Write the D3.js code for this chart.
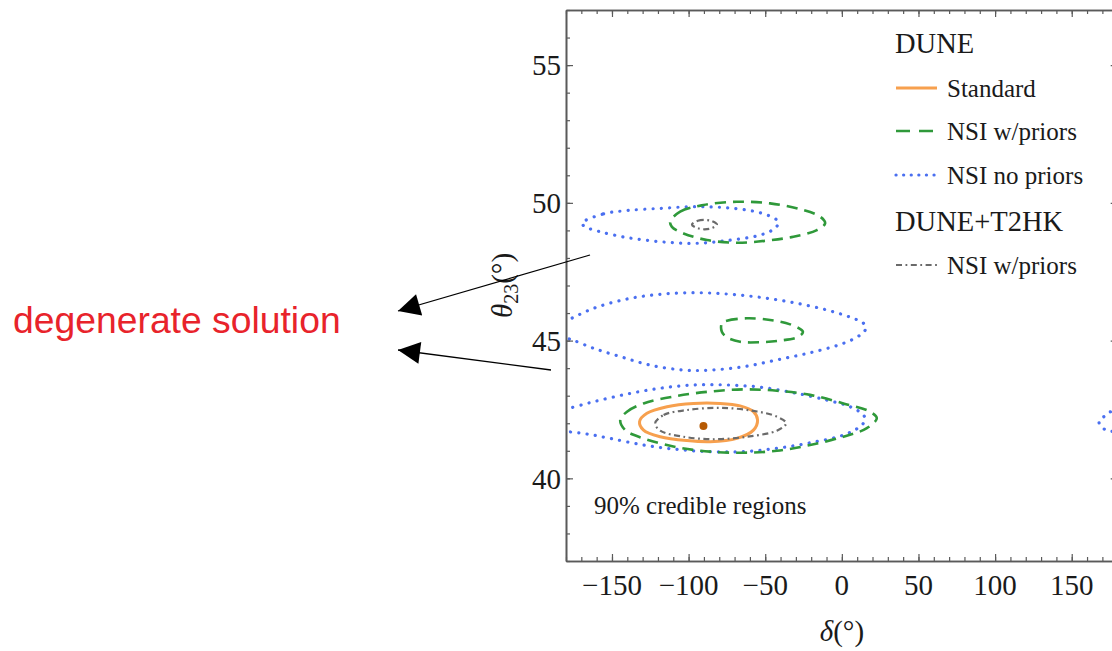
<!DOCTYPE html>
<html>
<head>
<meta charset="utf-8">
<script src="https://cdn.jsdelivr.net/npm/d3@7"></script>
<style>
  html, body { margin: 0; padding: 0; background: #fff; }
  svg { display: block; }
  .serif { font-family: "Liberation Serif", "Times New Roman", serif; fill: #1a1a1a; }
</style>
</head>
<body>
<svg id="chart" width="1112" height="651"></svg>
<script>
// Axis ticks
const deltaTicks = [-150, -100, -50, 0, 50, 100, 150];
const thetaTicks = [40, 45, 50, 55];
const deltaMinor = d3.range(-180, 181, 10);
const thetaMinor = d3.range(37, 58, 1);

// 90% credible regions, points as [delta (deg), theta23 (deg)]
// DUNE, standard oscillations
const duneStandard = [
  [-132.0, 42.06], [-127.2, 42.36], [-114.1, 42.60], [-96.8, 42.72], [-79.4, 42.72],
  [-66.4, 42.63], [-57.7, 42.42], [-55.0, 42.12], [-57.7, 41.75], [-68.5, 41.45],
  [-85.9, 41.33], [-101.1, 41.37], [-118.5, 41.51], [-129.4, 41.75]
];

// DUNE, NSI with priors (three islands)
const duneNsiPriorsLow = [
  [-144.6, 42.12], [-140.2, 42.42], [-129.4, 42.72], [-107.6, 42.99], [-85.9, 43.15],
  [-64.2, 43.23], [-42.4, 43.18], [-20.7, 43.03], [1.0, 42.72], [18.4, 42.42],
  [22.8, 42.18], [16.3, 41.82], [1.0, 41.51], [-20.7, 41.21], [-42.4, 41.00],
  [-64.2, 40.93], [-85.9, 40.97], [-107.6, 41.13], [-129.4, 41.45], [-141.3, 41.75]
];
const duneNsiPriorsMid = [
  [-78.3, 45.63], [-75.0, 45.72], [-62.0, 45.81], [-46.8, 45.75], [-33.7, 45.59],
  [-25.4, 45.32], [-28.3, 45.14], [-40.3, 45.00], [-53.3, 44.94], [-66.4, 44.96],
  [-75.0, 45.12], [-78.3, 45.32]
];
const duneNsiPriorsHigh = [
  [-112.0, 49.32], [-105.5, 49.68], [-90.3, 49.92], [-68.5, 50.04], [-46.8, 49.98],
  [-27.2, 49.77], [-14.2, 49.50], [-10.9, 49.26], [-16.3, 49.01], [-31.6, 48.77],
  [-48.9, 48.63], [-68.5, 48.55], [-88.0, 48.65], [-103.3, 48.89], [-110.9, 49.13]
];

// DUNE, NSI without priors (lower and middle islands wrap around delta = +-180)
const duneNsiNoPriorsLow = [
  [-186, 42.45], [-178.3, 42.54], [-162.0, 42.78], [-140.2, 43.06], [-118.5, 43.27],
  [-96.8, 43.39], [-75.0, 43.39], [-53.3, 43.31], [-31.6, 43.11], [-9.8, 42.84],
  [5.4, 42.60], [14.1, 42.30], [15.2, 42.12], [11.9, 41.88], [1.0, 41.57],
  [-20.7, 41.29], [-42.4, 41.09], [-64.2, 40.97], [-85.9, 40.97], [-107.6, 41.05],
  [-129.4, 41.21], [-151.1, 41.45], [-166.3, 41.61], [-178.3, 41.69], [-186, 41.72]
];
const duneNsiNoPriorsLowWrap = [
  [186, 42.50], [175.0, 42.41], [172.8, 42.30], [169.0, 42.16], [167.8, 42.04],
  [169.8, 41.84], [175.0, 41.72], [186, 41.68]
];
const duneNsiNoPriorsMid = [
  [-186, 45.60], [-180.0, 45.72], [-162.0, 46.17], [-140.2, 46.51], [-118.5, 46.68],
  [-96.8, 46.74], [-75.0, 46.69], [-53.3, 46.57], [-31.6, 46.38], [-9.8, 46.11],
  [5.4, 45.85], [14.1, 45.63], [15.8, 45.45], [11.9, 45.20], [1.0, 44.90],
  [-20.7, 44.56], [-42.4, 44.30], [-64.2, 44.05], [-85.9, 43.93], [-103.3, 43.93],
  [-125.0, 44.11], [-144.6, 44.42], [-162.0, 44.72], [-177.3, 45.05], [-186, 45.15]
];
const duneNsiNoPriorsHigh = [
  [-169.6, 49.26], [-155.5, 49.60], [-140.2, 49.72], [-118.5, 49.80], [-96.8, 49.86],
  [-75.0, 49.82], [-53.3, 49.64], [-42.4, 49.38], [-41.3, 49.26], [-44.6, 49.04],
  [-53.3, 48.83], [-75.0, 48.63], [-96.8, 48.53], [-118.5, 48.59], [-140.2, 48.74],
  [-157.6, 48.95], [-167.4, 49.13]
];

// DUNE+T2HK, NSI with priors
const t2hkNsiPriorsLow = [
  [-121.8, 42.00], [-116.3, 42.30], [-101.1, 42.48], [-79.4, 42.56], [-57.7, 42.45],
  [-42.4, 42.24], [-36.3, 42.00], [-42.4, 41.73], [-62.0, 41.51], [-83.7, 41.42],
  [-103.3, 41.51], [-118.5, 41.73]
];
const t2hkNsiPriorsHigh = [
  [-97.8, 49.21], [-94.0, 49.35], [-89.7, 49.38], [-85.0, 49.34], [-81.5, 49.21],
  [-85.0, 49.08], [-89.7, 49.04], [-94.0, 49.08]
];

// True point
const bestFit = [-90.3, 41.90];

// Legend
const legendGroups = ["DUNE", "DUNE+T2HK"];
const legendLabels = ["Standard", "NSI w/priors", "NSI no priors", "NSI w/priors"];

const styles = {
  standard: { stroke: "#f7a04e", width: 3, dash: null, cap: "butt" },
  priors:   { stroke: "#2f993a", width: 2.6, dash: "11 7", cap: "butt" },
  noPriors: { stroke: "#4a6ff0", width: 3.2, dash: "0.1 8.2", cap: "round" },
  t2hk:     { stroke: "#6a6a6a", width: 2.2, dash: "6 3.5 1.8 3.5", cap: "butt" }
};

const svg = d3.select("#chart");
const plotLeft = 566, plotTop = 10, plotBottom = 561;
const x = d3.scaleLinear().domain([-180, 180]).range([plotLeft, 1117.7]);
const y = d3.scaleLinear().domain([37, 57]).range([plotBottom, plotTop]);

const defs = svg.append("defs");
defs.append("clipPath").attr("id", "plotClip")
  .append("rect")
  .attr("x", x(-180)).attr("y", y(57))
  .attr("width", x(180) - x(-180)).attr("height", y(37) - y(57));

const plot = svg.append("g").attr("clip-path", "url(#plotClip)");

const closedLine = d3.line().x(d => x(d[0])).y(d => y(d[1]))
  .curve(d3.curveCatmullRomClosed.alpha(0.5));
const openLine = d3.line().x(d => x(d[0])).y(d => y(d[1]))
  .curve(d3.curveCatmullRom.alpha(0.5));

function contour(data, style, closed) {
  plot.append("path")
    .datum(data)
    .attr("d", closed ? closedLine : openLine)
    .attr("fill", "none")
    .attr("stroke", style.stroke)
    .attr("stroke-width", style.width)
    .attr("stroke-dasharray", style.dash)
    .attr("stroke-linecap", style.cap)
    .attr("stroke-linejoin", "round");
}

contour(duneNsiNoPriorsLow, styles.noPriors, false);
contour(duneNsiNoPriorsLowWrap, styles.noPriors, false);
contour(duneNsiNoPriorsMid, styles.noPriors, false);
contour(duneNsiNoPriorsHigh, styles.noPriors, true);
contour(duneNsiPriorsLow, styles.priors, true);
contour(duneNsiPriorsMid, styles.priors, true);
contour(duneNsiPriorsHigh, styles.priors, true);
contour(duneStandard, styles.standard, true);
contour(t2hkNsiPriorsLow, styles.t2hk, true);
contour(t2hkNsiPriorsHigh, styles.t2hk, true);

plot.append("circle")
  .attr("cx", x(bestFit[0])).attr("cy", y(bestFit[1]))
  .attr("r", 4).attr("fill", "#b65a04");

// Frame with inward ticks on all four sides
const frameColor = "#5a5a5a";
function frame(axis, transform) {
  const g = svg.append("g").attr("transform", transform).call(axis);
  g.select(".domain").attr("stroke", frameColor).attr("stroke-width", 1.6);
  g.selectAll(".tick line").attr("stroke", frameColor).attr("stroke-width", 1.2);
  g.selectAll("text").remove();
  return g;
}
const minorLen = 4, majorLen = 7;
// minor ticks
frame(d3.axisBottom(x).tickValues(deltaMinor).tickSize(-minorLen).tickSizeOuter(0), `translate(0,${plotBottom})`);
frame(d3.axisTop(x).tickValues(deltaMinor).tickSize(-minorLen).tickSizeOuter(0), `translate(0,${plotTop})`);
frame(d3.axisLeft(y).tickValues(thetaMinor).tickSize(-minorLen).tickSizeOuter(0), `translate(${plotLeft},0)`);
frame(d3.axisRight(y).tickValues(thetaMinor).tickSize(-minorLen).tickSizeOuter(0), `translate(${x(180)},0)`);
// major ticks
frame(d3.axisBottom(x).tickValues(deltaTicks).tickSize(-majorLen).tickSizeOuter(0), `translate(0,${plotBottom})`);
frame(d3.axisTop(x).tickValues(deltaTicks).tickSize(-majorLen).tickSizeOuter(0), `translate(0,${plotTop})`);
frame(d3.axisLeft(y).tickValues(thetaTicks).tickSize(-majorLen).tickSizeOuter(0), `translate(${plotLeft},0)`);
frame(d3.axisRight(y).tickValues(thetaTicks).tickSize(-majorLen).tickSizeOuter(0), `translate(${x(180)},0)`);

// Tick labels
const fmt = v => (v < 0 ? "\u2212" + Math.abs(v) : String(v));
svg.append("g").selectAll("text").data(deltaTicks).join("text")
  .attr("class", "serif")
  .attr("x", d => x(d)).attr("y", 595)
  .attr("text-anchor", "middle")
  .style("font-size", "29px")
  .text(fmt);
svg.append("g").selectAll("text").data(thetaTicks).join("text")
  .attr("class", "serif")
  .attr("x", plotLeft - 5).attr("y", d => y(d))
  .attr("dy", "0.35em")
  .attr("text-anchor", "end")
  .style("font-size", "29px")
  .text(fmt);

// Axis titles
const xTitle = svg.append("text").attr("class", "serif")
  .attr("x", x(0)).attr("y", 641).attr("text-anchor", "middle")
  .style("font-size", "29px");
xTitle.append("tspan").style("font-style", "italic").text("\u03b4");
xTitle.append("tspan").text("(\u00b0)");

const yTitle = svg.append("text").attr("class", "serif")
  .attr("transform", `translate(512,${(plotTop + plotBottom) / 2}) rotate(-90)`)
  .attr("text-anchor", "middle")
  .style("font-size", "29px");
yTitle.append("tspan").style("font-style", "italic").text("\u03b8");
yTitle.append("tspan").attr("dy", 6).style("font-size", "20px").text("23");
yTitle.append("tspan").attr("dy", -6).text("(\u00b0)");

// Region annotation
svg.append("text").attr("class", "serif")
  .attr("x", 594).attr("y", 514)
  .style("font-size", "25px")
  .text("90% credible regions");

// Legend
const legend = svg.append("g");
const headY = [53, 231];
legendGroups.forEach((t, i) => {
  legend.append("text").attr("class", "serif")
    .attr("x", 895).attr("y", headY[i])
    .style("font-size", "28.5px").text(t);
});
const itemStyles = [styles.standard, styles.priors, styles.noPriors, styles.t2hk];
const itemLineY = [88, 131, 175, 265];
const legendDash = ["", "14 9", "0.1 7.5", "6 3.5 1.8 3.5"];
legendLabels.forEach((t, i) => {
  const s = itemStyles[i];
  legend.append("line")
    .attr("x1", 896).attr("x2", 937)
    .attr("y1", itemLineY[i]).attr("y2", itemLineY[i])
    .attr("stroke", s.stroke).attr("stroke-width", s.width)
    .attr("stroke-dasharray", legendDash[i] || null)
    .attr("stroke-linecap", s.cap);
  legend.append("text").attr("class", "serif")
    .attr("x", 947).attr("y", itemLineY[i] + 9)
    .style("font-size", "25px").text(t);
});

// Annotation: arrows pointing from the two extra islands
defs.append("marker")
  .attr("id", "head").attr("viewBox", "0 0 10 10")
  .attr("refX", 10).attr("refY", 5)
  .attr("markerWidth", 33).attr("markerHeight", 22)
  .attr("markerUnits", "userSpaceOnUse")
  .attr("orient", "auto")
  .append("path").attr("d", "M0,0 L10,5 L0,10 Z").attr("fill", "#000");

const arrows = [
  { from: [590, 255], to: [398, 311] },
  { from: [551, 370], to: [398, 350] }
];
svg.append("g").selectAll("line").data(arrows).join("line")
  .attr("x1", d => d.from[0]).attr("y1", d => d.from[1])
  .attr("x2", d => d.to[0]).attr("y2", d => d.to[1])
  .attr("stroke", "#000").attr("stroke-width", 1.3)
  .attr("marker-end", "url(#head)");

svg.append("text")
  .attr("x", 13).attr("y", 333)
  .style("font-family", "'Liberation Sans', Arial, sans-serif")
  .style("font-size", "37.3px")
  .attr("fill", "#e8232b")
  .text("degenerate solution");
</script>
</body>
</html>
